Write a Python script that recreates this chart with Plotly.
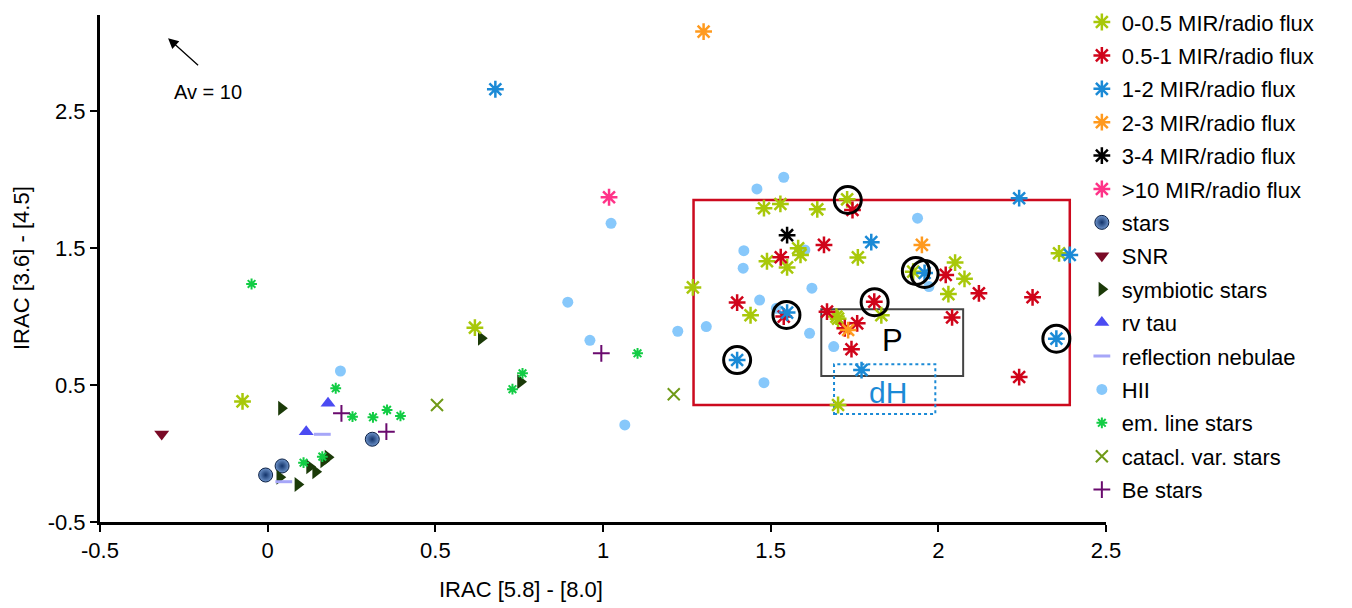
import plotly.graph_objects as go

# ---------------- data ----------------
mir_0_05_x = [-0.075, 0.618, 1.268, 1.480, 1.529, 1.639, 1.728, 1.582, 1.589, 1.489, 1.549,
              1.760, 1.925, 2.050, 2.078, 2.030, 2.360, 1.440, 1.701, 1.696, 1.830, 1.701]
mir_0_05_y = [0.380, 0.918, 1.212, 1.790, 1.821, 1.782, 1.855, 1.498, 1.449, 1.403, 1.358,
              1.431, 1.327, 1.393, 1.275, 1.163, 1.461, 1.009, 0.984, 0.999, 1.009, 0.354]

mir_05_1_x = [1.744, 1.530, 1.659, 2.022, 2.121, 2.281, 1.400, 1.539, 1.668, 1.809, 1.758,
              1.721, 1.741, 2.041, 2.241]
mir_05_1_y = [1.777, 1.432, 1.522, 1.303, 1.169, 1.140, 1.101, 0.999, 1.035, 1.108, 0.950,
              0.914, 0.761, 0.993, 0.558]

mir_1_2_x = [0.679, 2.241, 1.800, 2.392, 1.959, 1.549, 1.400, 2.352, 1.771]
mir_1_2_y = [2.658, 1.863, 1.542, 1.449, 1.318, 1.028, 0.682, 0.838, 0.609]

mir_2_3_x = [1.300, 1.951, 1.731]
mir_2_3_y = [3.079, 1.522, 0.901]

mir_3_4_x = [1.549]
mir_3_4_y = [1.593]

mir_gt10_x = [1.018]
mir_gt10_y = [1.870]

stars_x = [-0.006, 0.043, 0.312]
stars_y = [-0.157, -0.091, 0.104]

snr_x = [-0.316]
snr_y = [0.142]

symb_x = [0.041, 0.036, 0.090, 0.125, 0.143, 0.167, 0.180, 0.637, 0.754]
symb_y = [0.330, -0.174, -0.226, -0.096, -0.133, -0.053, -0.028, 0.841, 0.524]

rvtau_x = [0.180, 0.115]
rvtau_y = [0.366, 0.159]

refl_x = [0.163, 0.048]
refl_y = [0.140, -0.206]

hii_x = [0.217, 1.024, 0.895, 0.961, 1.223, 1.308, 1.539, 1.459, 1.938, 1.420, 1.418,
         1.623, 1.467, 1.517, 1.616, 1.688, 1.480, 1.972, 1.602, 1.065]
hii_y = [0.602, 1.680, 1.104, 0.826, 0.892, 0.926, 2.016, 1.931, 1.717, 1.480, 1.352,
         1.206, 1.120, 1.060, 0.877, 0.780, 0.517, 1.218, 1.485, 0.208]

eml_x = [-0.048, 0.203, 0.253, 0.314, 0.356, 0.396, 0.107, 0.163, 0.760, 0.730, 1.103]
eml_y = [1.237, 0.476, 0.269, 0.264, 0.318, 0.274, -0.067, -0.023, 0.585, 0.469, 0.731]

cv_x = [0.505, 1.211]
cv_y = [0.354, 0.432]

be_x = [0.220, 0.354, 0.995]
be_y = [0.293, 0.159, 0.731]

circ_x = [1.730, 1.933, 1.959, 1.810, 1.547, 1.400, 2.352]
circ_y = [1.850, 1.332, 1.310, 1.104, 1.011, 0.682, 0.838]

x_ticks = [-0.5, 0, 0.5, 1, 1.5, 2, 2.5]
x_ticktext = ["-0.5", "0", "0.5", "1", "1.5", "2", "2.5"]
y_ticks = [-0.5, 0.5, 1.5, 2.5]
y_ticktext = ["-0.5", "0.5", "1.5", "2.5"]

box_red = dict(x0=1.270, x1=2.392, y0=0.354, y1=1.850)
box_p = dict(x0=1.651, x1=2.074, y0=0.566, y1=1.053)
box_dh = dict(x0=1.689, x1=1.991, y0=0.288, y1=0.651)

FONT = "Liberation Sans, Arial, sans-serif"

fig = go.Figure()


def add(name, x, y, symbol, color, size, rank, legend, lw=0, lcolor=None, gradient=None):
    marker = dict(symbol=symbol, color=color, size=size,
                  line=dict(width=lw, color=lcolor if lcolor else color))
    if gradient:
        marker["gradient"] = gradient
    fig.add_trace(go.Scatter(x=x, y=y, mode="markers", name=name, marker=marker,
                             legendgroup=name, legendrank=rank, legend=legend))


# draw order: background categories first, MIR series on top
add("HII", hii_x, hii_y, "circle", "#87c8fb", 11, 12, "legend2")
add("stars", stars_x, stars_y, "circle", "#6f95cc", 14, 7, "legend2", lw=1, lcolor="#0d2246",
    gradient=dict(type="radial", color="#12336a"))
add("SNR", snr_x, snr_y, "triangle-down", "#7a0a26", 13, 8, "legend2")
add("symbiotic stars", symb_x, symb_y, "triangle-right", "#1b3a08", 13, 9, "legend2")
add("rv tau", rvtau_x, rvtau_y, "triangle-up", "#4b4bf2", 13, 10, "legend2")
add("reflection nebulae", refl_x, refl_y, "line-ew-open", "#a6a6f8", 12, 11, "legend2", lw=3)
add("em. line stars", eml_x, eml_y, "asterisk-open", "#12cc44", 9, 13, "legend2", lw=2)
add("catacl. var. stars", cv_x, cv_y, "x-thin-open", "#6f9a18", 12, 14, "legend2", lw=2)
add("Be stars", be_x, be_y, "cross-thin-open", "#6a0a6e", 12, 15, "legend2", lw=2)

add("0-0.5 MIR/radio flux", mir_0_05_x, mir_0_05_y, "asterisk-open", "#a8c80a", 14, 1, "legend", lw=2.5)
add("0.5-1 MIR/radio flux", mir_05_1_x, mir_05_1_y, "asterisk-open", "#d0041a", 14, 2, "legend", lw=2.5)
add("1-2 MIR/radio flux", mir_1_2_x, mir_1_2_y, "asterisk-open", "#1b8ad6", 14, 3, "legend", lw=2.5)
add("2-3 MIR/radio flux", mir_2_3_x, mir_2_3_y, "asterisk-open", "#ff9a1e", 14, 4, "legend", lw=2.5)
add("3-4 MIR/radio flux", mir_3_4_x, mir_3_4_y, "asterisk-open", "#000000", 14, 5, "legend", lw=2.5)
add(">10 MIR/radio flux", mir_gt10_x, mir_gt10_y, "asterisk-open", "#ff3388", 14, 6, "legend", lw=2.5)

# highlighted objects
fig.add_trace(go.Scatter(x=circ_x, y=circ_y, mode="markers", showlegend=False,
                         hoverinfo="skip",
                         marker=dict(symbol="circle-open", size=27, color="black",
                                     line=dict(width=3, color="black"))))

# boxes
fig.add_shape(type="rect", xref="x", yref="y", **box_red,
              line=dict(color="#cc0a1e", width=2.5), layer="below")
fig.add_shape(type="rect", xref="x", yref="y", **box_p,
              line=dict(color="#444444", width=2), layer="below")
fig.add_shape(type="rect", xref="x", yref="y", **box_dh,
              line=dict(color="#1b8ad6", width=2, dash="dot"), layer="below")

fig.add_annotation(x=(box_p["x0"] + box_p["x1"]) / 2, y=0.828, text="P",
                   showarrow=False, font=dict(family=FONT, size=31, color="black"))
fig.add_annotation(x=1.849, y=0.442, text="dH", showarrow=False,
                   font=dict(family=FONT, size=30, color="#1b8ad6"))

# extinction arrow
fig.add_annotation(x=-0.297, y=3.031, ax=-0.203, ay=2.824, axref="x", ayref="y",
                   xref="x", yref="y", text="", showarrow=True, arrowhead=2,
                   arrowsize=1.6, arrowwidth=1.3, arrowcolor="black")
fig.add_annotation(x=-0.179, y=2.641, text="Av = 10", showarrow=False,
                   font=dict(family=FONT, size=20, color="black"))

# axis titles
fig.add_annotation(xref="paper", yref="paper", x=0.4185, y=-0.134, text="IRAC [5.8] - [8.0]",
                   xanchor="center", yanchor="middle",
                   showarrow=False, font=dict(family=FONT, size=22, color="black"))
fig.add_annotation(xref="paper", yref="paper", x=-0.0775, y=0.501, text="IRAC [3.6] - [4.5]",
                   xanchor="center", yanchor="middle",
                   textangle=-90, showarrow=False, font=dict(family=FONT, size=22, color="black"))

legend_style = dict(xanchor="left", yanchor="top",
                    font=dict(family=FONT, size=22, color="black"),
                    tracegroupgap=1.8, bgcolor="rgba(0,0,0,0)")

# the page adds an 8 px body margin, so the figure is 8 px smaller and margins
# are reduced by 8 px on the left and top to keep the plot area in place
fig.update_layout(
    width=1344, height=600,
    margin=dict(l=92, r=246, t=7, b=86, autoexpand=False),
    paper_bgcolor="white", plot_bgcolor="white",
    font=dict(family=FONT, size=21, color="black"),
    showlegend=True,
    legend=dict(x=0.976, y=1.0272, **legend_style),
    legend2=dict(x=0.976, y=0.6320, **legend_style),
    xaxis=dict(range=[-0.5, 2.5], tickvals=x_ticks, ticktext=x_ticktext,
               showgrid=False, zeroline=False, showline=True, linecolor="black",
               linewidth=3, ticks="outside", ticklen=7, tickwidth=2, tickcolor="black",
               tickfont=dict(family=FONT, size=22)),
    yaxis=dict(range=[-0.5, 3.2], tickvals=y_ticks, ticktext=y_ticktext,
               showgrid=False, zeroline=False, showline=True, linecolor="black",
               linewidth=3, ticks="outside", ticklen=7, tickwidth=2, tickcolor="black",
               tickfont=dict(family=FONT, size=22)),
)

fig.write_html("out.html")
